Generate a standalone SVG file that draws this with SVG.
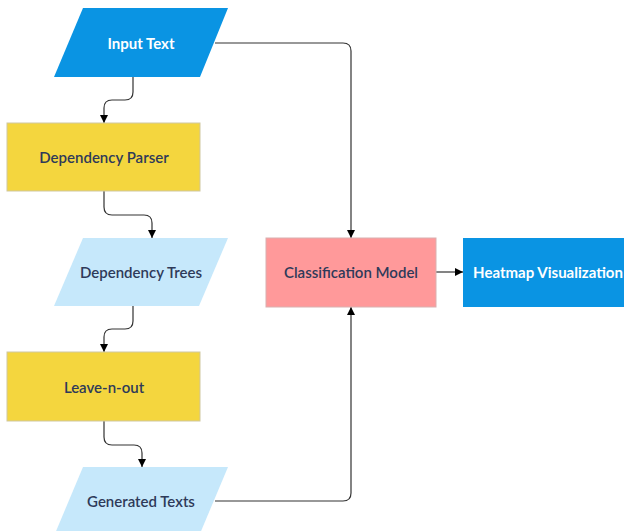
<svg xmlns="http://www.w3.org/2000/svg" width="624" height="531" viewBox="0 0 624 531">
<style>
.lbl{font-family:Lato,"Noto Sans",sans-serif;font-size:15px;font-weight:600;text-anchor:middle;dominant-baseline:central}
.dark{fill:#2E3A59}
.light{fill:#ffffff;font-weight:700}
.edge{fill:none;stroke:#333;stroke-width:1.2}
</style>
<defs>
<marker id="ah" viewBox="0 0 10 10" refX="10" refY="5" markerWidth="8" markerHeight="8" markerUnits="userSpaceOnUse" orient="auto">
<path d="M0,0 L10,5 L0,10 z" fill="#000"/>
</marker>
</defs>
<rect width="624" height="531" fill="#fff"/>
<g id="edges">
<path class="edge" marker-end="url(#ah)" d="M215,43 H343 Q351,43 351,51 V238"/>
<path class="edge" marker-end="url(#ah)" d="M133,77 V92 Q133,100 125,100 H112 Q104,100 104,108 V123"/>
<path class="edge" marker-end="url(#ah)" d="M104,191 V207 Q104,215 112,215 H144 Q152,215 152,223 V238"/>
<path class="edge" marker-end="url(#ah)" d="M133,306 V321 Q133,329 125,329 H112 Q104,329 104,337 V352"/>
<path class="edge" marker-end="url(#ah)" d="M104,421 V437 Q104,445 112,445 H134 Q142,445 142,453 V467"/>
<path class="edge" marker-end="url(#ah)" d="M215,501 H343 Q351,501 351,493 V307"/>
<path class="edge" marker-end="url(#ah)" d="M436,272 H463"/>
</g>
<g id="input-text">
<polygon points="83,8 228,8 200,77 54,77" fill="#0A94E3"/>
<text class="lbl light" x="141" y="43">Input Text</text>
</g>
<g id="dependency-parser">
<rect x="7" y="123" width="193" height="68" fill="#F4D63E" stroke="#CFC7A0" stroke-width="1"/>
<text class="lbl dark" x="104" y="157">Dependency Parser</text>
</g>
<g id="dependency-trees">
<polygon points="83,238 228,238 199,306 54,306" fill="#C6E8FB"/>
<text class="lbl dark" x="141" y="272">Dependency Trees</text>
</g>
<g id="leave-n-out">
<rect x="7" y="352" width="193" height="69" fill="#F4D63E" stroke="#CFC7A0" stroke-width="1"/>
<text class="lbl dark" x="104" y="387">Leave-n-out</text>
</g>
<g id="generated-texts">
<polygon points="83,467 228,467 199,536 54,536" fill="#C6E8FB"/>
<text class="lbl dark" x="141" y="501">Generated Texts</text>
</g>
<g id="classification-model">
<rect x="266" y="238" width="170" height="69" fill="#FF999A" stroke="#D9B0B0" stroke-width="1"/>
<text class="lbl dark" x="351" y="272">Classification Model</text>
</g>
<g id="heatmap">
<rect x="463" y="238" width="170" height="69" fill="#0A94E3"/>
<text class="lbl light" x="548" y="272">Heatmap Visualization</text>
</g>
</svg>
